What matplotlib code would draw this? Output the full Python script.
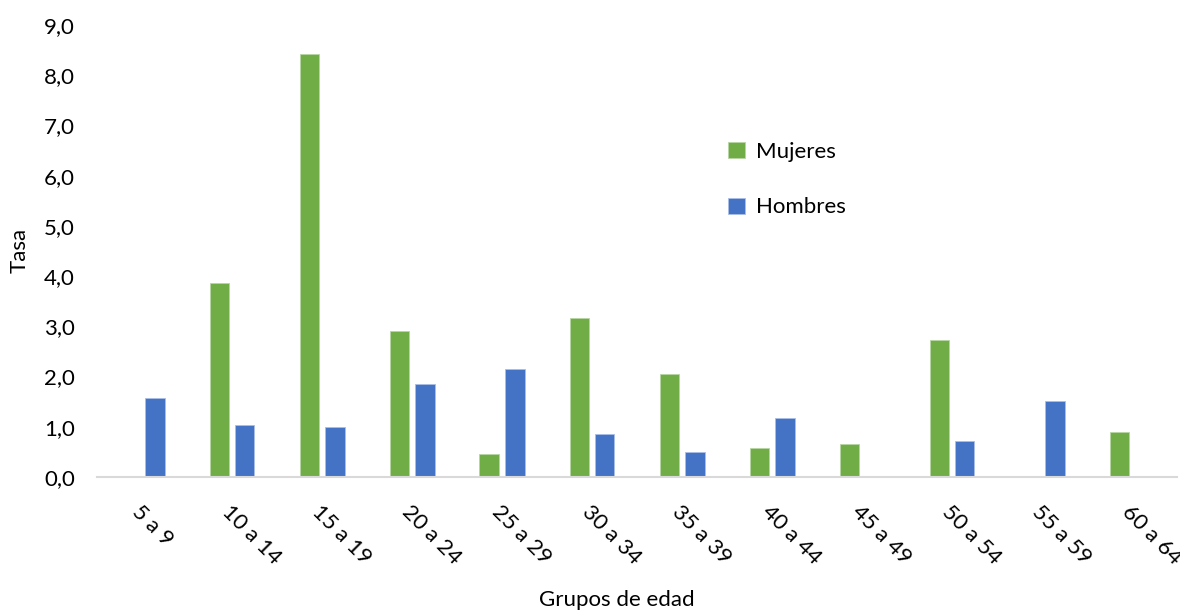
import numpy as np
import matplotlib.pyplot as plt
from matplotlib.ticker import FuncFormatter

plt.rcParams['font.family'] = ['Lato', 'DejaVu Sans']

# data
grupos = ['5 a 9', '10 a 14', '15 a 19', '20 a 24', '25 a 29', '30 a 34',
          '35 a 39', '40 a 44', '45 a 49', '50 a 54', '55 a 59', '60 a 64']
mujeres = [0.0, 3.86, 8.43, 2.91, 0.46, 3.17, 2.05, 0.58, 0.66, 2.73, 0.0, 0.90]
hombres = [1.57, 1.04, 1.00, 1.85, 2.15, 0.86, 0.50, 1.18, 0.0, 0.72, 1.51, 0.0]

verde = '#70AD47'
azul = '#4472C4'

fig = plt.figure(figsize=(11.8, 6.11), dpi=100)
ax = fig.add_axes([97 / 1180, 134 / 611, 1080 / 1180, 452 / 611])

x = np.arange(len(grupos))
w = 0.222
off = 0.139
ax.bar(x - off, mujeres, w, color=verde, edgecolor='#B7D6A3', linewidth=0.6, label='Mujeres')
ax.bar(x + off, hombres, w, color=azul, edgecolor='#A9BFE6', linewidth=0.6, label='Hombres')

ax.set_xlim(-0.5, len(grupos) - 0.5)
ax.set_ylim(0, 9)
ax.set_yticks(np.arange(0, 10, 1))
ax.yaxis.set_major_formatter(FuncFormatter(lambda v, p: f'{v:.1f}'.replace('.', ',')))

for s in ['top', 'right', 'left']:
    ax.spines[s].set_visible(False)
ax.spines['bottom'].set_color('#D9D9D9')
ax.spines['bottom'].set_linewidth(1.5)

ax.tick_params(axis='y', length=0, pad=16, labelsize=16, labelcolor='#000000')
ax.set_xticks(x)
ax.set_xticklabels(grupos, rotation=-45, ha='left', va='top', rotation_mode='anchor',
                   fontsize=16)
ax.tick_params(axis='x', length=0, pad=18)

fig.text(20 / 1180, 1 - 250 / 611, 'Tasa', rotation=90, ha='center', va='center', fontsize=16)
fig.text(617 / 1180, 1 - 600 / 611, 'Grupos de edad', ha='center', va='center', fontsize=16)

ax.legend(loc='upper left', bbox_to_anchor=(622 / 1080, 1 - 108 / 452), frameon=False,
          fontsize=16, handlelength=0.75, handleheight=0.75, handletextpad=0.5,
          labelspacing=1.6, borderaxespad=0)

fig.savefig('out.png', dpi=100)
